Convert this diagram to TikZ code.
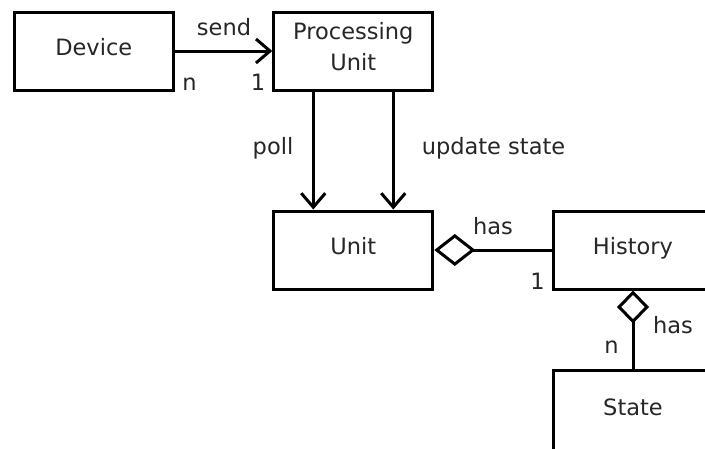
\documentclass[tikz,border=0pt]{standalone}
\usepackage{fontspec}
\setmainfont{DejaVu Sans}
\usetikzlibrary{arrows.meta}
\begin{document}
\begin{tikzpicture}[x=1pt,y=-1pt,
  every node/.style={font=\fontsize{22.5}{31.4}\selectfont, text=black!85},
  umlbox/.style={draw=black, line width=3pt, minimum width=159pt, minimum height=78pt,
    inner sep=0pt, text height=16pt, text depth=8pt},
  lbl/.style={inner sep=0pt, anchor=base},
  conn/.style={line width=3pt},
  flow/.style={conn, -{Straight Barb[length=14pt,width=24pt]}},
  aggh/.style={conn, {Diamond[open,length=41pt,width=32pt]}-},
  aggv/.style={conn, {Diamond[open,length=33pt,width=32pt]}-},
]
% canvas
\useasboundingbox (0,0) rectangle (705,448);
\fill[white] (0,0) rectangle (705,448);
\clip (0,0) rectangle (705,448);

% classes
\node[umlbox] (dev) at (93.75,51) {Device};
\node[umlbox, text height=44pt, text depth=4.6pt] (pu) at (353.3,51)
  {\begin{tabular}[b]{@{}c@{}}Processing\\Unit\end{tabular}};
\node[umlbox] (unit) at (353.3,250) {Unit};
\node[umlbox] (hist) at (633,250) {History};
\node[umlbox, minimum height=82pt] (state) at (633,411) {State};

% associations
\draw[flow] (dev.east) -- (pu.west);
\draw[flow] ([xshift=-40pt]pu.south) -- ([xshift=-40pt]pu.south |- unit.north);
\draw[flow] ([xshift=40pt]pu.south) -- ([xshift=40pt]pu.south |- unit.north);
\draw[aggh] (unit.east) -- (hist.west);
\draw[aggv] (hist.south) -- (state.north);

% association labels and multiplicities
\node[lbl] (lsend) at (224,35) {send};
\node[lbl] (mdev) at (189.5,90) {n};
\node[lbl] (mpu) at (258,90) {1};
\node[lbl] (lpoll) at (273,154) {poll};
\node[lbl] (lupd) at (493.5,154) {update state};
\node[lbl] (lhas1) at (493,234) {has};
\node[lbl] (mhist) at (537.5,289) {1};
\node[lbl] (lhas2) at (673,333) {has};
\node[lbl] (mstate) at (611.5,353) {n};
\end{tikzpicture}
\end{document}
